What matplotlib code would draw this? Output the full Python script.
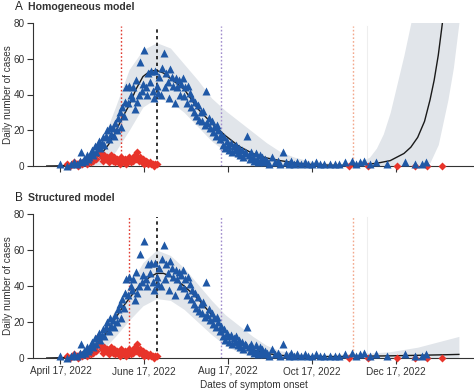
import numpy as np
import matplotlib
matplotlib.use('Agg')
import matplotlib.pyplot as plt

plt.rcParams['font.family'] = ['Liberation Sans', 'DejaVu Sans']

start = np.datetime64('2022-04-17')

# observed cases (days after April 17, 2022)
blue_days = list(range(0, 1)) + [5, 8, 10, 12, 14] + list(range(15, 151)) + \
    [152, 154, 156, 158, 160, 162, 164, 166, 168, 170, 172, 175, 178, 180, 183, 186, 189,
     192, 196, 200, 203, 207, 212, 215, 218, 221, 225, 230, 238, 251, 258, 263, 266]
blue_vals = [1, 0, 1, 2, 1, 3,
             8, 2, 4, 3, 6, 4, 5, 7, 9, 6, 11, 8, 12, 14, 10, 13, 16, 12, 17, 20,
             15, 22, 18, 21, 17, 24, 20, 27, 30, 22, 33, 28, 36, 44, 35, 45, 40, 38, 44, 32,
             48, 36, 40, 58, 42, 46, 65, 44, 40, 52, 47, 53, 42, 38, 53, 45, 41, 50, 40, 55,
             63, 44, 52, 47, 38, 54, 50, 45, 35, 49, 44, 48, 40, 46, 49, 39, 44, 35, 45, 41,
             33, 38, 30, 36, 28, 34, 26, 30, 25, 31, 23, 42, 24, 27, 21, 25, 19, 22, 17, 23,
             20, 15, 18, 12, 16, 10, 14, 12, 9, 13, 8, 11, 9, 12, 7, 10, 6, 9, 5, 8,
             7, 17, 6, 4, 8, 5, 3, 7, 4, 2, 6, 3, 5, 2, 4, 3,
             1, 5, 2, 3, 1, 8, 2, 1, 3, 1, 2, 1, 2, 1, 1, 2, 1,
             1, 1, 1, 1, 2, 3, 1, 2, 3, 1, 2, 1, 2, 1, 1, 2]

red_days = [5, 7, 9, 10, 12, 13, 14, 16, 18, 19] + list(range(20, 71)) + [210, 224, 245, 258, 267, 278]
red_vals = [1, 0, 1, 2, 1, 0, 2, 1, 3, 1,
            2, 4, 2, 5, 3, 6, 4, 10, 12, 7, 5, 3, 6, 4, 5, 2, 4, 6, 3, 5,
            2, 4, 3, 1, 5, 3, 2, 4, 1, 3, 5, 2, 4, 3, 6, 4, 8, 3, 5, 2,
            4, 1, 3, 2, 1, 2, 1, 1, 0, 1, 1,
            0, 0, 0, 0, 0, 0]

# model A: homogeneous
a_days = [-10, 0, 10, 20, 25, 30, 35, 40, 45, 50, 55, 60, 65, 70, 75, 80, 90, 100, 110, 120,
          130, 140, 150, 160, 170, 180, 190, 200, 210, 220, 230, 240, 245, 250, 255, 260,
          265, 269, 272, 275, 278, 281]
a_mean = [0, 0.1, 0.5, 2, 4, 7, 12, 19, 27, 34, 43, 50, 53, 53.5, 52, 49, 43, 32, 24, 17,
          11, 7, 4.5, 3, 1.8, 1, 0.6, 0.4, 0.4, 0.8, 1.5, 3, 5, 7, 10.5, 16,
          25, 37, 48, 62, 80, 100]
a_band_days = [0, 10, 20, 30, 40, 50, 60, 70, 80, 90, 100, 110, 120, 130, 140, 150, 160, 170,
               180, 190, 200, 210, 220, 225, 230, 235, 240, 245, 250, 255, 260, 265, 269,
               275, 282, 286, 290, 295]
a_upper = [0, 1, 3, 13, 33, 54, 65, 69, 66, 57, 48, 38, 31, 25, 19, 13, 8, 5,
           3, 2, 1.5, 1.5, 3, 5, 10, 18, 30, 46, 62, 80, 100, 120, 130,
           140, 150, 160, 170, 180]
a_lower = [0, 0, 0, 1, 8, 20, 33, 38, 36, 30, 22, 14, 8, 4, 2, 1, 0.3, 0,
           0, 0, 0, 0, 0, 0, 0, 0, 0, 0, 0, 0, 0, 0.5, 2,
           12, 37, 55, 80, 120]

# model B: structured
b_days = [-10, 10, 20, 25, 30, 35, 40, 45, 50, 55, 60, 65, 70, 75, 80, 90, 100, 110, 120,
          125, 130, 140, 150, 160, 170, 180, 200, 220, 240, 260, 280, 290]
b_mean = [0, 0.3, 2, 5, 10, 16, 22, 28, 33, 38, 42, 45, 47, 47, 45.5, 40, 33, 24, 15,
          11, 8, 4.5, 2.5, 1.5, 1, 0.8, 0.8, 1, 1.2, 1.5, 1.8, 2]
b_band_days = [0, 10, 20, 30, 40, 50, 60, 70, 80, 90, 100, 110, 120, 130, 140, 150, 160,
               170, 180, 200, 220, 240, 260, 280, 290]
b_upper = [0, 1, 4, 14, 27, 40, 53, 60, 57, 50, 41, 32, 24, 18, 12, 7, 4,
           3, 2, 2, 2.5, 3.5, 6, 10, 12]
b_lower = [0, 0, 0, 4, 12, 21, 29, 33, 32, 27, 20, 13, 7, 3, 1, 0, 0,
           0, 0, 0, 0, 0, 0, 0, 0]

tick_days = [0, 61, 122, 183, 244]
tick_labels = ['April 17, 2022', 'June 17, 2022', 'Aug 17, 2022', 'Oct 17, 2022', 'Dec 17, 2022']


def d(days):
    return start + np.array(days, dtype='timedelta64[D]')


def panel(ax, letter, title, mdays, mean, bdays, upper, lower, red_line, show_labels):
    ax.fill_between(d(bdays), lower, upper, color='#e1e5ea', lw=0, zorder=1)
    ax.plot(d(mdays), mean, color='#1a1a1a', lw=1.0, zorder=4)
    ax.axvline(d([red_line])[0], ymax=0.98, color='#e03a30', ls=(0, (1.2, 1.5)), lw=1.0, zorder=2)
    ax.axvline(d([70])[0], ymax=0.98, color='#111111', ls=(0, (2, 2)), lw=1.2, zorder=2)
    ax.axvline(d([117])[0], ymax=0.98, color='#a08ccc', ls=(0, (1.2, 1.5)), lw=1.0, zorder=2)
    ax.axvline(d([213])[0], ymax=0.98, color='#f3a88c', ls=(0, (1.2, 1.5)), lw=1.0, zorder=2)
    ax.axvline(d([223])[0], ymax=0.98, color='#eeeeee', lw=0.8, zorder=0)
    ax.plot(d(red_days), red_vals, 'D', color='#e8342a', ms=3.6, mec='none', zorder=5, clip_on=False)
    ax.plot(d(blue_days), blue_vals, '^', color='#1f58a6', ms=5.4, mec='none', zorder=6, clip_on=False)

    ax.set_ylim(0, 80)
    ax.set_xlim(d([-20])[0], d([301])[0])
    ax.set_yticks([0, 20, 40, 60, 80])
    ax.set_xticks(d(tick_days))
    ax.set_xticklabels(tick_labels if show_labels else [])
    ax.tick_params(axis='both', colors='#333333', labelsize=7.2, length=4, width=0.8, pad=2)
    for s in ['top', 'right']:
        ax.spines[s].set_visible(False)
    ax.spines['left'].set_color('#333333')
    ax.spines['bottom'].set_color('#333333')
    ax.set_ylabel('Daily number of cases', fontsize=7.2, color='#333333')
    ax.yaxis.set_label_coords(-0.046, 0.5)
    ax.text(-0.04, 1.11, letter, transform=ax.transAxes, fontsize=8.5, color='#222222', va='center')
    ax.text(-0.012, 1.11, title, transform=ax.transAxes, fontsize=7.6, fontweight='bold',
            color='#333333', va='center')


fig = plt.figure(figsize=(4.74, 3.91), dpi=100)
axA = fig.add_axes([33 / 474, 225 / 391, 441 / 474, 143 / 391])
axB = fig.add_axes([33 / 474, 33 / 391, 441 / 474, 144 / 391])

panel(axA, 'A', 'Homogeneous model', a_days, a_mean, a_band_days, a_upper, a_lower, 44, False)
panel(axB, 'B', 'Structured model', b_days, b_mean, b_band_days, b_upper, b_lower, 50, True)
axB.set_xlabel('Dates of symptom onset', fontsize=7.2, color='#333333')
axB.xaxis.set_label_coords(0.5, -0.15)

fig.savefig('out.png', dpi=100)
